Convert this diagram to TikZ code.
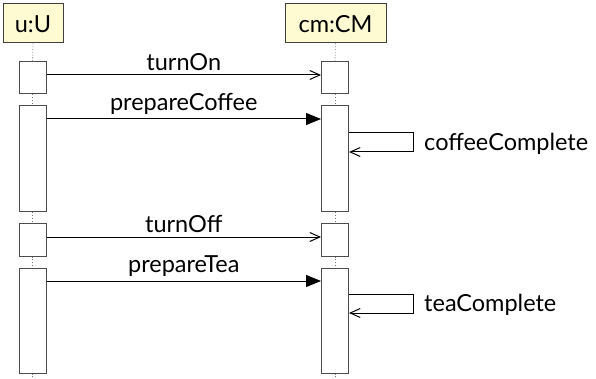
\documentclass[tikz,border=0pt]{standalone}
\usepackage{fontspec}
\setmainfont{Lato}
\usetikzlibrary{arrows.meta}
\definecolor{headfill}{HTML}{FEFBD2}
\begin{document}
\begin{tikzpicture}[x=1pt,y=-1pt,
  every node/.style={font=\fontsize{23.5}{28}\selectfont, text=black},
  head/.style={draw=black!75, fill=headfill, line width=1pt, inner sep=0, text height=24pt, text depth=5pt},
  actbox/.style={draw=black!70, fill=white, line width=1pt, inner sep=0, minimum width=27pt},
  life/.style={draw=black!55, dotted, line width=0.8pt},
  sync/.style={-{Triangle[length=15pt,width=12pt]}, line width=1pt, black},
  async/.style={-{Straight Barb[length=10pt,width=9pt]}, line width=1pt, black},
  lbl/.style={anchor=south, inner sep=0, above=3.5pt},
  slbl/.style={anchor=base west, inner sep=0}]
\useasboundingbox (0,0) rectangle (596,379);

% headers
\node[head, minimum width=60pt, minimum height=39pt] (hu) at (33,23.5) {u:U};
\node[head, minimum width=101pt, minimum height=39pt] (hc) at (335.5,23.5) {cm:CM};

% activation boxes
\node[actbox, minimum height=32pt] (u1) at (32.5,78) {};
\node[actbox, minimum height=106pt] (u2) at (32.5,159) {};
\node[actbox, minimum height=33pt] (u3) at (32.5,239.5) {};
\node[actbox, minimum height=105pt] (u4) at (32.5,320.5) {};
\node[actbox, minimum height=32pt] (c1) at (335,78) {};
\node[actbox, minimum height=106pt] (c2) at (335,159) {};
\node[actbox, minimum height=33pt] (c3) at (335,239.5) {};
\node[actbox, minimum height=105pt] (c4) at (335,320.5) {};

% lifelines
\coordinate (ue) at (32.5,378);
\coordinate (ce) at (335,378);
\draw[life] (hu.south) -- (u1.north);
\draw[life] (u1.south) -- (u2.north);
\draw[life] (u2.south) -- (u3.north);
\draw[life] (u3.south) -- (u4.north);
\draw[life] (u4.south) -- (ue);
\draw[life] (hc.south) -- (c1.north);
\draw[life] (c1.south) -- (c2.north);
\draw[life] (c2.south) -- (c3.north);
\draw[life] (c3.south) -- (c4.north);
\draw[life] (c4.south) -- (ce);

% message levels
\coordinate (m1) at (0,75);
\coordinate (m2) at (0,119);
\coordinate (m3) at (0,237);
\coordinate (m4) at (0,281);
\coordinate (s1a) at (0,133);
\coordinate (s1b) at (0,152);
\coordinate (s2a) at (0,294);
\coordinate (s2b) at (0,313);

\draw[async] (u1.east |- m1) -- node[lbl] (l1) {turnOn} (c1.west |- m1);
\draw[sync] (u2.east |- m2) -- node[lbl] (l2) {prepareCoffee} (c2.west |- m2);
\draw[async] (u3.east |- m3) -- node[lbl] (l3) {turnOff} (c3.west |- m3);
\draw[sync] (u4.east |- m4) -- node[lbl] (l4) {prepareTea} (c4.west |- m4);

% self messages
\draw[async] (c2.east |- s1a) -- ++(64,0) -- ++(0,19) -- (c2.east |- s1b);
\node[slbl] (l5) at (424,151) {coffeeComplete};
\draw[async] (c4.east |- s2a) -- ++(64,0) -- ++(0,19) -- (c4.east |- s2b);
\node[slbl] (l6) at (424,311) {teaComplete};
\end{tikzpicture}
\end{document}
